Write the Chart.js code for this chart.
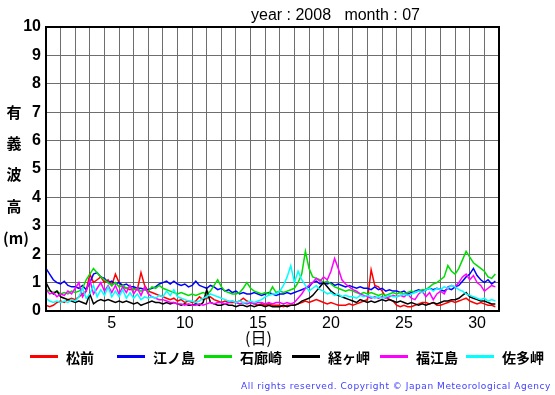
<!DOCTYPE html>
<html>
<head>
  <meta charset="UTF-8">
  <title>有義波高 2008年07月</title>
  <script src="https://cdn.jsdelivr.net/npm/chart.js"></script>
  <style>
    html, body { margin: 0; padding: 0; background: #fff; }
    #wrap { position: relative; width: 555px; height: 395px; font-family: "Liberation Sans", Arial, sans-serif; }
    canvas { position: absolute; left: 0; top: 0; }
    .title { position: absolute; left: 251px; top: 6px; font-size: 16px; white-space: pre; color: #000; }
    .ylab { position: absolute; left: 3px; width: 22px; text-align: center; font-family: "Noto Sans CJK JP", sans-serif; font-weight: bold; font-size: 15px; line-height: 18px; }
    .xlab { position: absolute; left: 245px; top: 327px; font-family: "Noto Sans CJK JP", sans-serif; font-size: 16px; line-height: 20px; }
    .leg { position: absolute; top: 348px; height: 18px; }
    .leg span.l { position: absolute; left: 0; top: 7px; width: 28px; height: 3px; }
    .leg span.t { position: absolute; left: 36px; top: 0; font-family: "Noto Sans CJK JP", sans-serif; font-weight: bold; font-size: 14px; line-height: 18px; white-space: nowrap; }
    .copy { position: absolute; left: 241px; top: 381px; font-family: "DejaVu Sans", sans-serif; font-size: 9px; letter-spacing: 0.55px; color: #3f3fff; white-space: nowrap; }
  </style>
</head>
<body>
<div id="wrap">
  <canvas id="waveChart" width="555" height="395"></canvas>
  <div class="title">year : 2008   month : 07</div>
  <div class="ylab" style="top:103px">有</div>
  <div class="ylab" style="top:134px">義</div>
  <div class="ylab" style="top:165px">波</div>
  <div class="ylab" style="top:197px">高</div>
  <div class="ylab" style="top:229px">(m)</div>
  <div class="xlab">(日)</div>
  <div id="legend"></div>
  <div class="copy">All rights reserved. Copyright © Japan Meteorological Agency</div>
</div>

<script>
  // 4 values per day (00, 06, 12, 18 h), days 1..31
  const matsumae = [
    0.2, 0.15, 0.2, 0.3,   0.35, 0.3, 0.4, 0.45,   0.4, 0.5, 0.6, 0.7,   1.3, 1.0, 1.1, 1.2,
    1.0, 1.1, 0.9, 1.3,    1.0, 0.85, 0.8, 0.75,   0.8, 0.75, 1.35, 0.9, 0.7, 0.65, 0.6, 0.55,
    0.5, 0.45, 0.4, 0.45,  0.35, 0.4, 0.3, 0.35,   0.3, 0.35, 0.5, 0.4,  0.45, 0.5, 0.4, 0.35,
    0.3, 0.35, 0.3, 0.3,   0.3, 0.35, 0.45, 0.35,  0.3, 0.25, 0.2, 0.25, 0.2, 0.25, 0.2, 0.2,
    0.2, 0.15, 0.2, 0.2,   0.2, 0.25, 0.3, 0.35,   0.3, 0.35, 0.4, 0.35, 0.3, 0.25, 0.3, 0.25,
    0.2, 0.2, 0.2, 0.25,   0.2, 0.25, 0.3, 0.35,   0.4, 1.45, 0.9, 0.85, 0.7, 0.5, 0.4, 0.35,
    0.2, 0.15, 0.2, 0.15,  0.15, 0.2, 0.25, 0.3,   0.3, 0.25, 0.3, 0.2,  0.2, 0.25, 0.3, 0.35,
    0.3, 0.35, 0.4, 0.45,  0.35, 0.3, 0.25, 0.3,   0.25, 0.2, 0.2, 0.15
  ];
  const enoshima = [
    1.5, 1.3, 1.1, 1.0,    0.95, 1.05, 0.9, 0.85,  0.85, 0.8, 0.9, 0.75,  1.0, 1.3, 1.35, 1.2,
    1.15, 1.0, 1.05, 0.95, 1.0, 0.9, 0.95, 0.85,   0.85, 0.8, 0.8, 0.75,  0.75, 0.8, 0.85, 0.95,
    1.0, 1.05, 0.95, 1.05, 0.95, 0.9, 0.95, 0.85,  0.9, 1.05, 0.9, 0.85,  0.8, 0.9, 0.85, 0.75,
    0.8, 0.7, 0.75, 0.65,  0.7, 0.6, 0.65, 0.6,    0.6, 0.65, 0.6, 0.55,  0.6, 0.65, 0.6, 0.55,
    0.6, 0.6, 0.65, 0.6,   0.65, 0.7, 0.75, 0.8,   0.85, 1.0, 1.05, 0.95, 1.0, 0.95, 1.0, 0.9,
    0.95, 0.9, 0.85, 0.9,  0.85, 0.8, 0.85, 0.8,   0.8, 0.75, 0.85, 0.75, 0.8, 0.7, 0.75, 0.7,
    0.7, 0.65, 0.7, 0.6,   0.65, 0.7, 0.75, 0.7,   0.75, 0.8, 0.75, 0.8,  0.75, 0.7, 0.8, 0.75,
    0.85, 0.9, 1.05, 1.2,  1.3, 1.5, 1.25, 1.1,    1.0, 1.1, 0.95, 1.05
  ];
  const irozaki = [
    0.75, 0.7, 0.65, 0.7,  0.6, 0.65, 0.6, 0.7,    0.65, 0.7, 0.8, 1.1,   1.3, 1.5, 1.35, 1.2,
    1.1, 1.0, 0.9, 1.0,    0.85, 0.9, 0.8, 0.85,   0.75, 0.8, 0.7, 0.75,  0.7, 0.85, 0.8, 0.9,
    0.8, 0.75, 0.7, 0.65,  0.6, 0.65, 0.6, 0.55,   0.6, 0.55, 0.6, 0.65,  0.6, 0.7, 0.9, 1.1,
    0.85, 0.7, 0.65, 0.6,  0.6, 0.65, 0.8, 1.0,    0.8, 0.7, 0.65, 0.6,   0.65, 0.6, 0.85, 0.65,
    0.7, 0.65, 0.7, 0.75,  0.8, 1.0, 1.3, 2.1,     1.5, 1.2, 1.15, 1.1,   1.0, 1.05, 0.95, 0.85,
    0.8, 0.75, 0.7, 0.75,  0.7, 0.65, 0.6, 0.65,   0.6, 0.65, 0.6, 0.55,  0.6, 0.55, 0.6, 0.65,
    0.6, 0.65, 0.6, 0.65,  0.7, 0.65, 0.7, 0.75,   0.75, 0.85, 0.95, 1.0, 1.1, 1.2, 1.6, 1.4,
    1.3, 1.5, 1.8, 2.1,    1.9, 1.7, 1.6, 1.5,     1.4, 1.2, 1.15, 1.3
  ];
  const kyougamisaki = [
    1.0, 0.75, 0.6, 0.7,   0.5, 0.45, 0.4, 0.35,   0.3, 0.35, 0.3, 0.25,  0.6, 0.25, 0.35, 0.4,
    0.35, 0.4, 0.35, 0.3,  0.35, 0.3, 0.35, 0.3,   0.25, 0.3, 0.2, 0.25,  0.3, 0.35, 0.3, 0.3,
    0.25, 0.3, 0.25, 0.3,  0.25, 0.2, 0.25, 0.2,   0.2, 0.25, 0.2, 0.3,   0.75, 0.3, 0.25, 0.2,
    0.2, 0.25, 0.2, 0.2,   0.15, 0.2, 0.2, 0.15,   0.2, 0.15, 0.2, 0.2,   0.15, 0.2, 0.15, 0.15,
    0.15, 0.2, 0.15, 0.2,  0.2, 0.25, 0.35, 0.4,   0.45, 0.55, 0.7, 0.85, 1.0, 0.85, 0.7, 0.6,
    0.55, 0.5, 0.45, 0.4,  0.35, 0.3, 0.4, 0.35,   0.3, 0.35, 0.3, 0.35,  0.4, 0.35, 0.4, 0.35,
    0.3, 0.35, 0.3, 0.25,  0.3, 0.25, 0.2, 0.25,   0.2, 0.25, 0.3, 0.25,  0.3, 0.35, 0.35, 0.4,
    0.4, 0.45, 0.55, 0.65, 0.5, 0.45, 0.4, 0.35,   0.35, 0.3, 0.25, 0.25
  ];
  const fukuejima = [
    0.75, 0.6, 0.65, 0.5,  0.6, 0.55, 0.7, 0.6,    0.8, 1.0, 0.5, 0.7,    1.1, 0.6, 0.8, 1.0,
    0.7, 0.9, 0.65, 0.9,   0.6, 0.85, 0.65, 0.9,   0.6, 0.8, 0.55, 0.85,  0.6, 0.5, 0.45, 0.4,
    0.4, 0.35, 0.3, 0.3,   0.25, 0.25, 0.2, 0.25,  0.2, 0.2, 0.25, 0.2,   0.25, 0.3, 0.25, 0.3,
    0.3, 0.25, 0.3, 0.35,  0.3, 0.25, 0.3, 0.25,   0.3, 0.25, 0.3, 0.3,   0.25, 0.3, 0.25, 0.3,
    0.3, 0.25, 0.3, 0.25,  0.3, 0.45, 0.6, 0.8,    0.9, 1.0, 1.15, 1.05,  1.2, 1.1, 1.4, 1.85,
    1.5, 1.1, 0.95, 0.85,  0.75, 0.7, 0.6, 0.55,   0.5, 0.45, 0.5, 0.45,  0.5, 0.45, 0.5, 0.55,
    0.5, 0.55, 0.5, 0.6,   0.45, 0.4, 0.6, 0.7,    0.5, 0.65, 0.4, 0.6,   0.7, 0.6, 0.85, 0.9,
    0.85, 1.0, 1.2, 1.3,   1.1, 1.25, 1.0, 0.9,    0.7, 0.8, 0.9, 0.85
  ];
  const satamisaki = [
    0.45, 0.35, 0.3, 0.35, 0.3, 0.35, 0.3, 0.4,    0.35, 0.5, 0.8, 0.45,  0.6, 0.9, 0.5, 0.75,
    0.55, 0.85, 0.5, 0.7,  0.5, 0.75, 0.45, 0.65,  0.45, 0.6, 0.4, 0.5,   0.45, 0.5, 0.45, 0.55,
    0.5, 0.7, 0.55, 0.75,  0.5, 0.45, 0.4, 0.35,   0.35, 0.3, 0.35, 0.45, 0.5, 0.6, 0.55, 0.5,
    0.45, 0.4, 0.35, 0.35, 0.3, 0.35, 0.3, 0.3,    0.35, 0.3, 0.35, 0.4,  0.5, 0.55, 0.6, 0.6,
    0.7, 0.9, 1.2, 1.6,    1.0, 1.4, 1.1, 0.9,     0.7, 0.8, 0.9, 0.75,   0.7, 0.6, 0.65, 0.55,
    0.6, 0.5, 0.55, 0.5,   0.5, 0.45, 0.55, 0.5,   0.55, 0.5, 0.45, 0.5,  0.45, 0.5, 0.55, 0.5,
    0.5, 0.55, 0.6, 0.55,  0.6, 0.65, 0.7, 0.65,   0.75, 0.8, 0.7, 0.8,   0.75, 0.85, 0.8, 0.9,
    0.85, 0.75, 0.7, 0.6,  0.55, 0.5, 0.45, 0.4,   0.45, 0.35, 0.4, 0.35
  ];

  const stations = ['松前', '江ノ島', '石廊崎', '経ヶ岬', '福江島', '佐多岬'];
  const colors = ['#ff0000', '#0000ff', '#00dd00', '#000000', '#ff00ff', '#00ffff'];
  const series = [matsumae, enoshima, irozaki, kyougamisaki, fukuejima, satamisaki];
  const dayLabels = [5, 10, 15, 20, 25, 30];

  // time axis: day 1 00h .. day 31 18h, step 6 h
  const times = matsumae.map((v, i) => 1 + i / 4);

  const frame = {
    id: 'frame',
    afterDatasetsDraw(chart) {
      const a = chart.chartArea;
      const c = chart.ctx;
      c.save();
      c.strokeStyle = '#000';
      c.lineWidth = 2;
      c.strokeRect(a.left, a.top, a.right - a.left, a.bottom - a.top);
      c.restore();
    }
  };

  const ctx = document.getElementById('waveChart').getContext('2d');
  new Chart(ctx, {
    type: 'line',
    data: {
      datasets: series.map((vals, k) => ({
        label: stations[k],
        data: vals.map((v, i) => ({ x: times[i], y: v })),
        borderColor: colors[k],
        borderWidth: 1.5,
        pointRadius: 0,
        tension: 0,
        order: 6 - k
      }))
    },
    options: {
      responsive: false,
      animation: false,
      layout: { padding: { top: 27, right: 56, bottom: 60, left: 0 } },
      plugins: { legend: { display: false }, tooltip: { enabled: false } },
      scales: {
        x: {
          type: 'linear',
          min: 1,
          max: 32,
          afterFit(s) { s.height = 24; },
          afterBuildTicks(s) {
            s.ticks = [];
            for (let d = 1; d <= 32; d++) s.ticks.push({ value: d });
          },
          grid: { color: '#6e6e6e', lineWidth: 1, drawTicks: false },
          border: { display: false },
          ticks: {
            autoSkip: false,
            maxRotation: 0,
            padding: 3,
            labelOffset: 7.3,
            color: '#000',
            font: { family: '"Liberation Sans", Arial, sans-serif', size: 16 },
            callback: (v) => dayLabels.includes(v) ? String(v) : ''
          }
        },
        y: {
          min: 0,
          max: 10,
          afterFit(s) { s.width = 46; },
          grid: { color: '#6e6e6e', lineWidth: 1, drawTicks: false },
          border: { display: false },
          ticks: {
            stepSize: 1,
            padding: 5,
            color: '#000',
            font: { family: '"Liberation Sans", Arial, sans-serif', size: 16, weight: 'bold' }
          }
        }
      }
    },
    plugins: [frame]
  });

  // legend row
  const legendLeft = [30, 117, 204, 292, 380, 466];
  const legend = document.getElementById('legend');
  stations.forEach((name, k) => {
    const item = document.createElement('div');
    item.className = 'leg';
    item.style.left = legendLeft[k] + 'px';
    item.innerHTML = '<span class="l" style="background:' + colors[k] + '"></span><span class="t">' + name + '</span>';
    legend.appendChild(item);
  });
</script>
</body>
</html>
